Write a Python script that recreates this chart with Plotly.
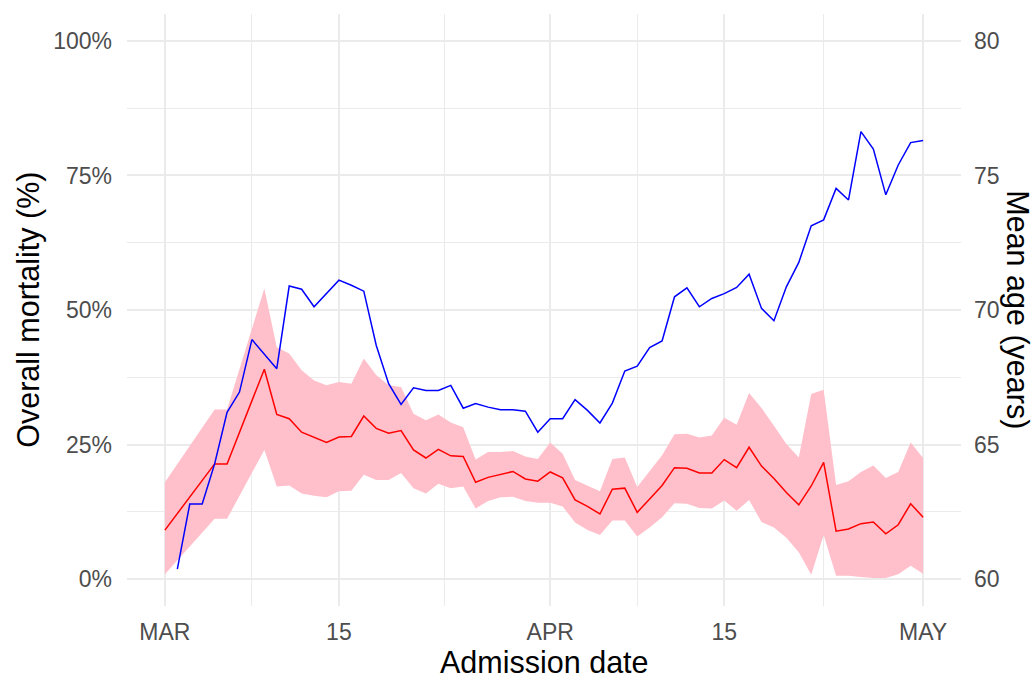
import datetime as dt
import pandas as pd
import plotly.graph_objects as go

# Admission dates, one per day from 1 March to 1 May 2020
dates = pd.date_range("2020-03-01", "2020-05-01", freq="D")

# Overall mortality (%) by admission date, with its confidence band
mortality = [
    9.1, None, None, None, 21.4, 21.4, None, None, 39.0, 30.6,
    29.8, 27.3, 26.3, 25.4, 26.4, 26.5, 30.3, 28.0, 27.1, 27.6,
    24.0, 22.5, 24.1, 22.9, 22.8, 18.0, 18.9, 19.4, 20.0, 18.6,
    18.2, 19.9, 18.8, 14.7, 13.5, 12.1, 16.7, 16.9, 12.4, 14.9,
    17.4, 20.7, 20.6, 19.7, 19.7, 22.2, 20.7, 24.5, 21.0, 18.7,
    16.1, 13.8, 17.3, 21.7, 8.9, 9.3, 10.3, 10.6, 8.4, 10.1,
    14.0, 11.5,
]
mortality_upper = [
    18.0, None, None, None, 31.5, 31.5, None, None, 54.0, 43.1,
    41.9, 38.8, 36.9, 36.0, 36.6, 36.3, 41.0, 37.9, 36.0, 35.7,
    30.7, 29.5, 30.6, 29.1, 28.2, 22.2, 23.6, 23.6, 23.8, 22.8,
    22.3, 25.4, 23.3, 18.4, 17.4, 16.3, 22.3, 22.6, 17.1, 20.0,
    23.0, 26.9, 27.0, 26.3, 26.7, 30.0, 28.7, 34.6, 31.8, 28.5,
    25.1, 22.6, 34.4, 35.2, 17.5, 18.2, 19.9, 21.1, 18.8, 19.9,
    25.4, 22.5,
]
mortality_lower = [
    0.9, None, None, None, 11.2, 11.2, None, None, 24.0, 17.2,
    17.4, 15.9, 15.5, 15.2, 16.3, 16.4, 19.4, 18.4, 18.4, 19.7,
    16.9, 15.9, 17.7, 16.9, 17.2, 13.1, 14.5, 15.2, 15.3, 14.5,
    14.2, 14.2, 13.5, 10.5, 9.1, 8.2, 10.9, 10.9, 7.9, 9.6,
    11.5, 14.1, 14.0, 13.2, 13.1, 14.6, 12.7, 14.7, 10.6, 9.6,
    7.7, 5.0, 0.8, 8.2, 0.6, 0.6, 0.4, 0.2, 0.2, 0.9,
    2.5, 1.0,
]

# Mean age (years) by admission date
mean_age = [
    None, 60.37, 62.79, 62.79, 64.28, 66.20, 66.95, 68.90, 68.35, 67.82,
    70.89, 70.77, 70.12, 70.61, 71.11, 70.92, 70.70, 68.69, 67.26, 66.49,
    67.11, 67.01, 67.01, 67.20, 66.35, 66.52, 66.39, 66.29, 66.29, 66.24,
    65.46, 65.96, 65.96, 66.67, 66.27, 65.80, 66.54, 67.73, 67.91, 68.60,
    68.85, 70.49, 70.82, 70.12, 70.43, 70.61, 70.84, 71.33, 70.06, 69.60,
    70.86, 71.77, 73.13, 73.35, 74.52, 74.09, 76.63, 75.98, 74.28, 75.39,
    76.22, 76.30,
]

# Axis breaks and labels
x_tick_dates = ["2020-03-01", "2020-03-15", "2020-04-01", "2020-04-15", "2020-05-01"]
x_tick_text = ["MAR", "15", "APR", "15", "MAY"]
x_minor_dates = ["2020-03-08", "2020-03-23 12:00", "2020-04-08", "2020-04-23"]
y_ticks = [0, 25, 50, 75, 100]
y_tick_text = ["0%", "25%", "50%", "75%", "100%"]
y_minor = [12.5, 37.5, 62.5, 87.5]
age_ticks = [60, 65, 70, 75, 80]

FONT = "Liberation Sans, Arial, sans-serif"
GRID = "#EBEBEB"
TITLE_SIZE = 30.5

# Confidence band polygon: upper edge forward, lower edge backward
band_x, band_up, band_lo = [], [], []
for d, u, l in zip(dates, mortality_upper, mortality_lower):
    if u is not None and l is not None:
        band_x.append(d)
        band_up.append(u)
        band_lo.append(l)
poly_x = band_x + band_x[::-1]
poly_y = band_up + band_lo[::-1]

fig = go.Figure()
fig.add_trace(go.Scatter(
    x=poly_x, y=poly_y, fill="toself", fillcolor="#FFC0CB",
    line=dict(width=0), mode="lines", hoverinfo="skip", showlegend=False,
))
fig.add_trace(go.Scatter(
    x=dates, y=mortality, mode="lines", connectgaps=True,
    line=dict(color="#FF0000", width=1.5), showlegend=False,
))
fig.add_trace(go.Scatter(
    x=dates, y=mean_age, mode="lines", yaxis="y2",
    line=dict(color="#0000FF", width=1.5), showlegend=False,
))

# ggplot-style 5% expansion on both sides of the date range
span = (dates[-1] - dates[0]).total_seconds() * 0.05
x_lo = dates[0] - dt.timedelta(seconds=span)
x_hi = dates[-1] + dt.timedelta(seconds=span)

fig.update_layout(
    width=1034, height=679,
    margin=dict(l=127, r=73, t=14, b=73),
    paper_bgcolor="white", plot_bgcolor="white",
    font=dict(family=FONT),
    xaxis=dict(
        type="date", range=[x_lo, x_hi],
        tickmode="array", tickvals=x_tick_dates, ticktext=x_tick_text,
        tickfont=dict(size=23, color="#4D4D4D"),
        ticks="", ticklabelstandoff=10,
        showgrid=True, gridcolor=GRID, gridwidth=1.7,
        minor=dict(tickmode="array", tickvals=x_minor_dates, showgrid=True,
                   gridcolor=GRID, gridwidth=0.9),
        zeroline=False, showline=False,
    ),
    yaxis=dict(
        range=[-5, 105],
        tickmode="array", tickvals=y_ticks, ticktext=y_tick_text,
        tickfont=dict(size=23, color="#4D4D4D"),
        ticks="", ticklabelstandoff=14,
        showgrid=True, gridcolor=GRID, gridwidth=1.7,
        minor=dict(tickmode="array", tickvals=y_minor, showgrid=True,
                   gridcolor=GRID, gridwidth=0.9),
        zeroline=False, showline=False,
    ),
    yaxis2=dict(
        overlaying="y", side="right", range=[59, 81],
        tickmode="array", tickvals=age_ticks,
        tickfont=dict(size=23, color="#4D4D4D"),
        ticks="", ticklabelstandoff=12,
        showgrid=False, zeroline=False, showline=False,
    ),
    annotations=[
        dict(text="Admission date", xref="paper", yref="paper", x=0.5, y=-0.095,
             xanchor="center", yanchor="middle", showarrow=False,
             font=dict(size=TITLE_SIZE, color="black")),
        dict(text="Overall mortality (%)", xref="paper", yref="paper", x=-0.119, y=0.5,
             xanchor="center", yanchor="middle", textangle=-90, showarrow=False,
             font=dict(size=TITLE_SIZE, color="black")),
        dict(text="Mean age (years)", xref="paper", yref="paper", x=1.068, y=0.5,
             xanchor="center", yanchor="middle", textangle=90, showarrow=False,
             font=dict(size=TITLE_SIZE, color="black")),
    ],
)

fig.write_html("out.html")
